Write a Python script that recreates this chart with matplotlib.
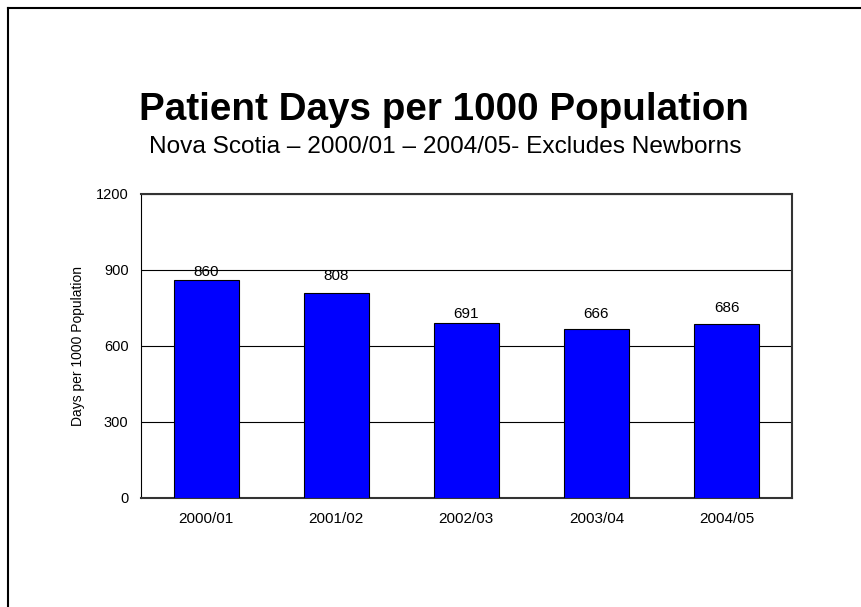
import matplotlib.pyplot as plt
from matplotlib.lines import Line2D

# Datos del gráfico
years = ['2000/01', '2001/02', '2002/03', '2003/04', '2004/05']
days = [860, 808, 691, 666, 686]
label_offsets = [0.5, 7, 1.5, 6, 6.5]  # desplazamiento de etiquetas (pt)

plt.rcParams['font.family'] = ['Liberation Sans', 'DejaVu Sans']

fig = plt.figure(figsize=(8.62, 6.07), dpi=100)
ax = fig.add_axes([0.1636, 0.180, 0.7548, 0.5004])

# Marco de la diapositiva (cortado a la derecha y abajo)
fig.add_artist(Line2D([8 / 862, 1], [1 - 8 / 607, 1 - 8 / 607], color='black', lw=1.5))
fig.add_artist(Line2D([8 / 862, 8 / 862], [0, 1 - 8 / 607], color='black', lw=1.5))

bars = ax.bar(years, days, width=0.5, color='#0000FF', edgecolor='black', linewidth=0.8, zorder=3)
for bar, val, off in zip(bars, days, label_offsets):
    ax.annotate(str(val), (bar.get_x() + bar.get_width() / 2, val),
                xytext=(0, off), textcoords='offset points',
                ha='center', va='bottom', fontsize=11)

ax.set_ylim(0, 1200)
ax.set_xlim(-0.5, 4.5)
ax.set_yticks([0, 300, 600, 900, 1200])
ax.yaxis.grid(True, color='black', linewidth=0.8, zorder=0)
ax.tick_params(axis='both', length=0, labelsize=11)
ax.tick_params(axis='y', labelsize=10.5, pad=9)
ax.tick_params(axis='x', pad=10)
ax.set_ylabel('Days per 1000 Population', fontsize=10, labelpad=8)

for side in ['top', 'right', 'bottom']:
    ax.spines[side].set_color('#333333')
    ax.spines[side].set_linewidth(1.5)
ax.spines['left'].set_color('black')
ax.spines['left'].set_linewidth(0.8)

fig.text(0.515, 1 - 110 / 607, 'Patient Days per 1000 Population',
         ha='center', va='center', fontsize=27.8, fontweight='bold')
fig.text(0.517, 1 - 147 / 607, 'Nova Scotia – 2000/01 – 2004/05- Excludes Newborns',
         ha='center', va='center', fontsize=17.6)

plt.savefig('out.png', dpi=100)
